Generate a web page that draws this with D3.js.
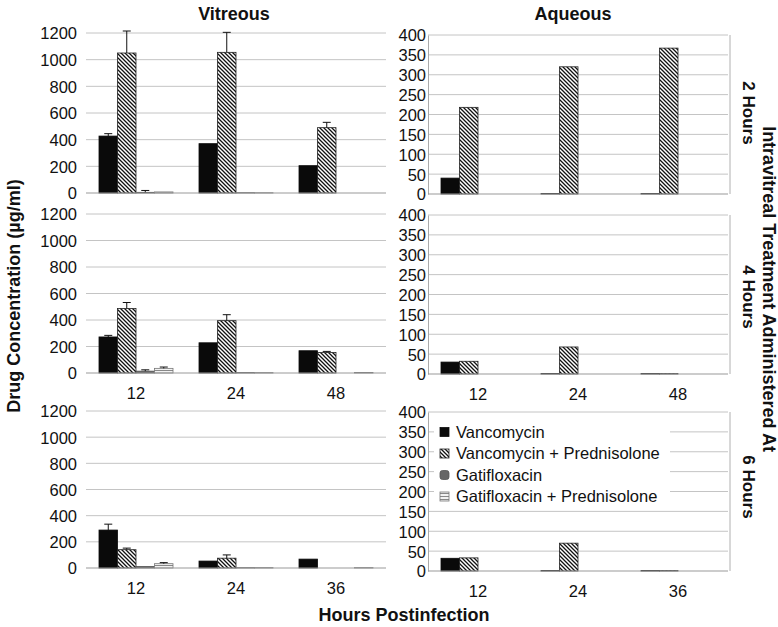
<!DOCTYPE html>
<html><head><meta charset="utf-8">
<script src="https://cdn.jsdelivr.net/npm/d3@7"></script>
<style>
html,body{margin:0;padding:0;background:#fff;}
svg{display:block;font-family:"Liberation Sans",Arial,sans-serif;}
</style></head>
<body><svg id="chart" width="778" height="627"></svg>
<script>
// ---------- data ----------
const seriesNames = ["Vancomycin", "Vancomycin + Prednisolone", "Gatifloxacin", "Gatifloxacin + Prednisolone"];
const columnTitles = ["Vitreous", "Aqueous"];
const rowLabels = ["2 Hours", "4 Hours", "6 Hours"];
const catsRow1 = ["12", "24", "48"];
const catsRow2 = ["12", "24", "48"];
const catsRow3 = ["12", "24", "36"];
const vitreousTicks = [0, 200, 400, 600, 800, 1000, 1200];
const aqueousTicks = [0, 50, 100, 150, 200, 250, 300, 350, 400];

// Vitreous, treatment at 2 h
const vit2Vanc = [427, 370, 205];
const vit2VancErr = [18, 0, 0];
const vit2VancP = [1050, 1055, 490];
const vit2VancPErr = [165, 150, 40];
const vit2Gati = [5, 2, 0];
const vit2GatiErr = [14, 0, 0];
const vit2GatiP = [8, 2, 0];
const vit2GatiPErr = [0, 0, 0];
// Vitreous, treatment at 4 h
const vit4Vanc = [272, 228, 168];
const vit4VancErr = [12, 0, 0];
const vit4VancP = [487, 395, 155];
const vit4VancPErr = [45, 45, 8];
const vit4Gati = [14, 3, 0];
const vit4GatiErr = [10, 0, 0];
const vit4GatiP = [35, 3, 4];
const vit4GatiPErr = [10, 0, 0];
// Vitreous, treatment at 6 h
const vit6Vanc = [290, 53, 68];
const vit6VancErr = [45, 0, 0];
const vit6VancP = [140, 75, 0];
const vit6VancPErr = [12, 25, 0];
const vit6Gati = [12, 2, 0];
const vit6GatiErr = [0, 0, 0];
const vit6GatiP = [33, 3, 3];
const vit6GatiPErr = [8, 0, 0];
// Aqueous
const aq2Vanc = [40, 1, 1];
const aq2VancP = [218, 320, 367];
const aq2Gati = [0, 0, 0];
const aq2GatiP = [0, 0, 0];
const aq4Vanc = [30, 1, 1];
const aq4VancP = [32, 68, 1];
const aq4Gati = [0, 0, 0];
const aq4GatiP = [0, 0, 0];
const aq6Vanc = [32, 1, 1];
const aq6VancP = [33, 70, 1];
const aq6Gati = [0, 0, 0];
const aq6GatiP = [0, 0, 0];
const zeroErr = [0, 0, 0];

// ---------- drawing ----------
const svg = d3.select("#chart");
const FONT = '"Liberation Sans", Arial, sans-serif';
const defs = svg.append("defs");
// dark diagonal hatch
const p1 = defs.append("pattern").attr("id", "hatchDark").attr("patternUnits", "userSpaceOnUse")
  .attr("width", 4).attr("height", 4);
p1.append("rect").attr("width", 4).attr("height", 4).attr("fill", "#fff");
p1.append("path").attr("d", "M-1,-1L5,5M-1,3L1,5M3,-1L5,1").attr("stroke", "#111").attr("stroke-width", 1.3);
// light horizontal hatch
const p2 = defs.append("pattern").attr("id", "hatchLight").attr("patternUnits", "userSpaceOnUse")
  .attr("width", 3).attr("height", 3);
p2.append("rect").attr("width", 3).attr("height", 3).attr("fill", "#f2f2f2");
p2.append("path").attr("d", "M0,1.5L3,1.5").attr("stroke", "#888").attr("stroke-width", 1);

const fills = ["#0a0a0a", "url(#hatchDark)", "#666", "url(#hatchLight)"];
const strokes = ["#0a0a0a", "#222", "#555", "#777"];

const panels = [
  {x0: 86, x1: 386, y0: 193, y1: 33, max: 1200, ticks: vitreousTicks, cats: catsRow1, xlabels: false,
   vals: [vit2Vanc, vit2VancP, vit2Gati, vit2GatiP], errs: [vit2VancErr, vit2VancPErr, vit2GatiErr, vit2GatiPErr], aq: false},
  {x0: 428, x1: 728, y0: 194, y1: 35, max: 400, ticks: aqueousTicks, cats: catsRow1, xlabels: false,
   vals: [aq2Vanc, aq2VancP, aq2Gati, aq2GatiP], errs: [zeroErr, zeroErr, zeroErr, zeroErr], aq: true},
  {x0: 86, x1: 386, y0: 373, y1: 214, max: 1200, ticks: vitreousTicks, cats: catsRow2, xlabels: true,
   vals: [vit4Vanc, vit4VancP, vit4Gati, vit4GatiP], errs: [vit4VancErr, vit4VancPErr, vit4GatiErr, vit4GatiPErr], aq: false},
  {x0: 428, x1: 728, y0: 374, y1: 215, max: 400, ticks: aqueousTicks, cats: catsRow2, xlabels: true,
   vals: [aq4Vanc, aq4VancP, aq4Gati, aq4GatiP], errs: [zeroErr, zeroErr, zeroErr, zeroErr], aq: true},
  {x0: 86, x1: 386, y0: 568, y1: 411, max: 1200, ticks: vitreousTicks, cats: catsRow3, xlabels: true,
   vals: [vit6Vanc, vit6VancP, vit6Gati, vit6GatiP], errs: [vit6VancErr, vit6VancPErr, vit6GatiErr, vit6GatiPErr], aq: false},
  {x0: 428, x1: 728, y0: 571, y1: 412, max: 400, ticks: aqueousTicks, cats: catsRow3, xlabels: true,
   vals: [aq6Vanc, aq6VancP, aq6Gati, aq6GatiP], errs: [zeroErr, zeroErr, zeroErr, zeroErr], aq: true, legend: true}
];

panels.forEach(p => {
  const g = svg.append("g");
  const x = d3.scaleBand().domain(p.cats).range([p.x0, p.x1]).paddingInner(0.26).paddingOuter(0.13);
  const xs = d3.scaleBand().domain(seriesNames).range([0, x.bandwidth()]).padding(0);
  const y = d3.scaleLinear().domain([0, p.max]).range([p.y0, p.y1]);

  // gridlines
  g.selectAll("line.grid").data(p.ticks.filter(t => t > 0)).join("line")
    .attr("x1", p.x0).attr("x2", p.x1)
    .attr("y1", d => y(d)).attr("y2", d => y(d))
    .attr("stroke", "#c4c4c4").attr("stroke-width", 1);
  // y axis labels
  const ya = d3.axisLeft(y).tickValues(p.ticks).tickFormat(d3.format("d")).tickSize(0).tickPadding(p.aq ? 2 : 9);
  const yg = g.append("g").attr("transform", `translate(${p.x0},0)`).call(ya);
  yg.select(".domain").attr("stroke", p.aq ? "#aaa" : "none");
  yg.selectAll("text").attr("font-size", 16.5).attr("font-family", FONT).attr("fill", "#111").attr("dy", "0.36em");
  if (p.aq) {
    g.append("line").attr("x1", p.x1 + 2).attr("x2", p.x1 + 2).attr("y1", p.y1).attr("y2", p.y0)
      .attr("stroke", "#b0b0b0");
  }

  // bars
  seriesNames.forEach((s, si) => {
    const vals = p.vals[si];
    g.selectAll(null).data(p.cats.map((c, i) => ({c, v: vals[i], e: p.errs[si][i]}))).join("rect")
      .attr("x", d => x(d.c) + xs(s))
      .attr("width", xs.bandwidth())
      .attr("y", d => y(d.v))
      .attr("height", d => Math.max(0, y(0) - y(d.v)))
      .attr("fill", fills[si])
      .attr("stroke", d => d.v > 0 ? strokes[si] : "none")
      .attr("stroke-width", 0.8);
    // error bars (upper only)
    const eb = p.cats.map((c, i) => ({c, v: vals[i], e: p.errs[si][i]})).filter(d => d.e > 0);
    const cx = d => x(d.c) + xs(s) + xs.bandwidth() / 2;
    g.selectAll(null).data(eb).join("line")
      .attr("x1", cx).attr("x2", cx).attr("y1", d => y(d.v)).attr("y2", d => y(d.v + d.e))
      .attr("stroke", "#111").attr("stroke-width", 1);
    g.selectAll(null).data(eb).join("line")
      .attr("x1", d => cx(d) - 4).attr("x2", d => cx(d) + 4).attr("y1", d => y(d.v + d.e)).attr("y2", d => y(d.v + d.e))
      .attr("stroke", "#111").attr("stroke-width", 1);
  });

  // baseline
  g.append("line").attr("x1", p.x0).attr("x2", p.x1).attr("y1", y(0)).attr("y2", y(0))
    .attr("stroke", "#999").attr("stroke-width", 1);

  // x labels
  if (p.xlabels) {
    const xa = d3.axisBottom(x).tickSize(0).tickPadding(14);
    const xg = g.append("g").attr("transform", `translate(0,${p.y0})`).call(xa);
    xg.select(".domain").remove();
    xg.selectAll("text").attr("font-size", 16.5).attr("font-family", FONT).attr("fill", "#111");
  }

  if (p.legend) {
    const lg = g.append("g");
    lg.append("rect").attr("x", 434).attr("y", 421).attr("width", 236).attr("height", 86).attr("fill", "#fff");
    seriesNames.forEach((s, i) => {
      const ly = 432 + i * 21.5;
      lg.append("rect").attr("x", 440).attr("y", ly - 4.5).attr("width", 9).attr("height", 9)
        .attr("rx", i === 2 ? 2.5 : 0)
        .attr("fill", fills[i]).attr("stroke", strokes[i]).attr("stroke-width", 0.8);
      lg.append("text").attr("x", 456).attr("y", ly).attr("dy", "0.35em")
        .attr("font-size", 16.5).attr("font-family", FONT).attr("fill", "#111").text(s);
    });
  }
});

// column titles
const titleX = [234, 573];
columnTitles.forEach((t, i) => {
  svg.append("text").attr("x", titleX[i]).attr("y", 20).attr("text-anchor", "middle")
    .attr("font-size", 18).attr("font-weight", "bold").attr("font-family", FONT).attr("fill", "#111").text(t);
});
// row labels (rotated, reading downward)
const rowY = [113, 297, 487];
rowLabels.forEach((t, i) => {
  svg.append("text").attr("transform", `translate(743,${rowY[i]}) rotate(90)`).attr("text-anchor", "middle")
    .attr("font-size", 17).attr("font-weight", "bold").attr("font-family", FONT).attr("fill", "#111").text(t);
});
svg.append("text").attr("transform", "translate(763,289) rotate(90)").attr("text-anchor", "middle")
  .attr("font-size", 18).attr("font-weight", "bold").attr("font-family", FONT).attr("fill", "#111")
  .text("Intravitreal Treatment Administered At");
// y title
svg.append("text").attr("transform", "translate(20,296) rotate(-90)").attr("text-anchor", "middle")
  .attr("font-size", 18).attr("font-weight", "bold").attr("font-family", FONT).attr("fill", "#111")
  .text("Drug Concentration (\u00b5g/ml)");
// x title
svg.append("text").attr("x", 404).attr("y", 621).attr("text-anchor", "middle")
  .attr("font-size", 18).attr("font-weight", "bold").attr("font-family", FONT).attr("fill", "#111")
  .text("Hours Postinfection");
</script></body></html>
